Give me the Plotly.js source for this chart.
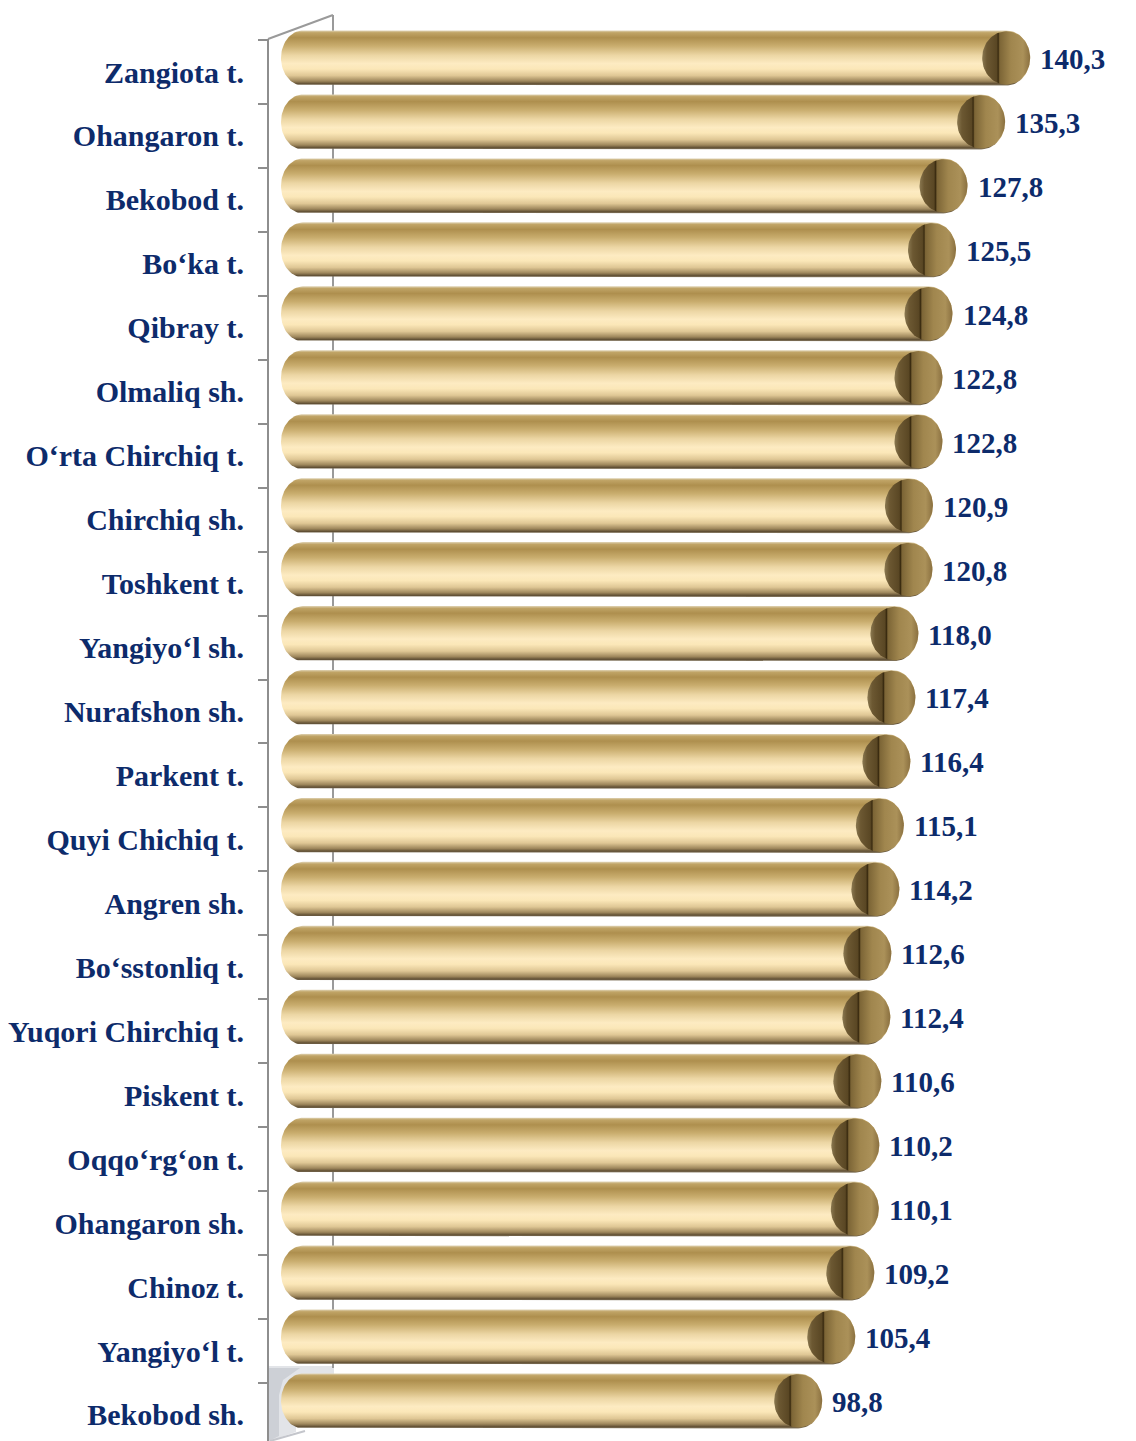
<!DOCTYPE html>
<html>
<head>
<meta charset="utf-8">
<script src="https://cdn.plot.ly/plotly-3.0.1.min.js"></script>
<style>html,body{margin:0;padding:0;background:#fff;}#chart{width:1136px;height:1441px;}</style>
</head>
<body>
<div id="chart"></div>
<script>
// ---- data ----
const categories = ["Zangiota t.", "Ohangaron t.", "Bekobod t.", "Bo‘ka t.", "Qibray t.", "Olmaliq sh.",
  "O‘rta Chirchiq t.", "Chirchiq sh.", "Toshkent t.", "Yangiyo‘l sh.", "Nurafshon sh.", "Parkent t.",
  "Quyi Chichiq t.", "Angren sh.", "Bo‘sstonliq t.", "Yuqori Chirchiq t.", "Piskent t.", "Oqqo‘rg‘on t.",
  "Ohangaron sh.", "Chinoz t.", "Yangiyo‘l t.", "Bekobod sh."];
const values = [140.3, 135.3, 127.8, 125.5, 124.8, 122.8, 122.8, 120.9, 120.8, 118.0, 117.4, 116.4,
  115.1, 114.2, 112.6, 112.4, 110.6, 110.2, 110.1, 109.2, 105.4, 98.8];
const valueLabels = values.map(v => v.toFixed(1).replace('.', ','));

// ---- geometry / style ----
const W = 1136, H = 1441;
const ML = 268;                 // left margin (front axis)
const zeroPx = 303, pxPerX = 5.012;
const xMin = -(zeroPx - ML) / pxPerX, xMax = (W - zeroPx) / pxPerX;
const pxPerY = 63.95, firstCenterPx = 72;
const yTop = -firstCenterPx / pxPerY, yBot = (H - firstCenterPx) / pxPerY;
const barShift = -0.219;         // 3D depth offset of bars
const ryU = 27.5 / pxPerY;       // half bar thickness
const rxU = 22 / pxPerX;         // left end horizontal radius
const rxCapU = 24 / pxPerX;      // right cap horizontal radius
const textColor = '#0d2b6b';
const fontFam = '"Liberation Serif", "Times New Roman", serif';

const bodyScale = [[0,'#e0d4b6'],[0.04,'#c0a466'],[0.13,'#ae8f4e'],[0.28,'#c9ad6e'],[0.45,'#ecd6a4'],
  [0.6,'#fdebc2'],[0.7,'#fbe7b8'],[0.82,'#dfc795'],[0.92,'#9e875c'],[0.97,'#604f34'],[1,'#8c806a']];
const capScale = [[0,'#8a7850'],[0.1,'#6c5832'],[0.3,'#5a4724'],[0.335,'#3a2b10'],[0.365,'#7c6536'],
  [0.6,'#a0864e'],[0.85,'#ab9159'],[1,'#8a7040']];

const traces = [];
const N = 40;
categories.forEach((cat, i) => {
  const c = i + barShift, v = values[i];
  const xs = [], ys = [];
  for (let k = 0; k <= N; k++) { const t = -Math.PI/2 + Math.PI*k/N; xs.push(v + rxCapU*Math.cos(t)); ys.push(c + ryU*Math.sin(t)); }
  for (let k = 0; k <= N; k++) { const t = Math.PI/2 + Math.PI*k/N; xs.push(0 + rxU*Math.cos(t)); ys.push(c + ryU*Math.sin(t)); }
  xs.push(xs[0]); ys.push(ys[0]);
  traces.push({type:'scatter', mode:'lines', x: xs, y: ys, fill:'toself', line:{width:0, color:'rgba(0,0,0,0)'},
    fillgradient:{type:'vertical', colorscale: bodyScale, start: c - ryU, stop: c + ryU}, hoverinfo:'skip', name: cat});
  const cx = [], cy = [];
  for (let k = 0; k <= 2*N; k++) { const t = 2*Math.PI*k/(2*N); cx.push(v + rxCapU*Math.cos(t)); cy.push(c + 0.97*ryU*Math.sin(t)); }
  traces.push({type:'scatter', mode:'lines', x: cx, y: cy, fill:'toself', line:{width:0, color:'rgba(0,0,0,0)'},
    fillgradient:{type:'horizontal', colorscale: capScale, start: v - rxCapU, stop: v + rxCapU}, hoverinfo:'skip', name: cat + ' cap'});
});

const annotations = values.map((v, i) => ({
  x: v, y: i + barShift, xref:'x', yref:'y', xanchor:'left', yanchor:'middle', xshift: 32, yshift: -1,
  text: valueLabels[i], showarrow:false,
  font:{family: fontFam, size: 29, color: textColor, weight: 700}
}));

// pixel -> paper helpers for decorative frame
const PW = W - ML;
const px = x => (x - ML) / PW;
const py = y => 1 - y / H;
const P = (x, y) => px(x).toFixed(5) + ',' + py(y).toFixed(5);
const frameColor = '#8e8e8e';
const shapes = [
  {type:'path', xref:'paper', yref:'paper',
    path: 'M' + P(269,1366) + ' L' + P(334,1366) + ' L' + P(334,1377) + ' L' + P(296,1377) + ' L' + P(296,1432) + ' L' + P(269,1441) + ' Z',
    fillcolor:'#e2e4e8', line:{width:0}, layer:'below'},
  {type:'path', xref:'paper', yref:'paper',
    path: 'M' + P(269,1368) + ' L' + P(300,1368) + ' L' + P(283,1380) + ' L' + P(279,1395) + ' L' + P(279,1436) + ' L' + P(269,1441) + ' Z',
    fillcolor:'#cdd0d6', line:{width:0}, layer:'below'},
  {type:'line', xref:'paper', yref:'paper', x0: px(333), x1: px(333), y0: py(15), y1: py(1368), line:{color:'#9a9a9a', width:2}, layer:'below'},
  {type:'line', xref:'paper', yref:'paper', x0: px(268), x1: px(333), y0: py(39), y1: py(15), line:{color:'#9a9a9a', width:2}, layer:'below'},
  {type:'line', xref:'paper', yref:'paper', x0: px(268), x1: px(268), y0: py(39), y1: py(1441), line:{color:frameColor, width:2}},
  {type:'line', xref:'paper', yref:'paper', x0: px(270), x1: px(305), y0: py(1441), y1: py(1431), line:{color:'#c4c6cc', width:2}, layer:'below'}
];

const layout = {
  width: W, height: H, autosize:false,
  margin:{l: ML, r: 0, t: 0, b: 0, pad: 0},
  paper_bgcolor:'#ffffff', plot_bgcolor:'rgba(0,0,0,0)',
  showlegend:false,
  xaxis:{range:[xMin, xMax], showgrid:false, zeroline:false, showline:false, showticklabels:false, ticks:'', fixedrange:true},
  yaxis:{range:[yBot, yTop], tickmode:'array', tickvals: categories.map((_, i) => i), ticktext: categories,
    ticks:'outside', ticklen: 17, tickcolor:'rgba(0,0,0,0)', showgrid:false, zeroline:false, showline:false,
    tickfont:{family: fontFam, size: 30, color: textColor, weight: 700},
    minor:{tickmode:'array', tickvals: categories.map((_, i) => i - 0.5), ticks:'outside', ticklen: 9, tickcolor: frameColor, tickwidth: 2, showgrid:false},
    fixedrange:true},
  shapes: shapes,
  annotations: annotations
};

Plotly.newPlot('chart', traces, layout, {displayModeBar:false, staticPlot:true});
</script>
</body>
</html>
